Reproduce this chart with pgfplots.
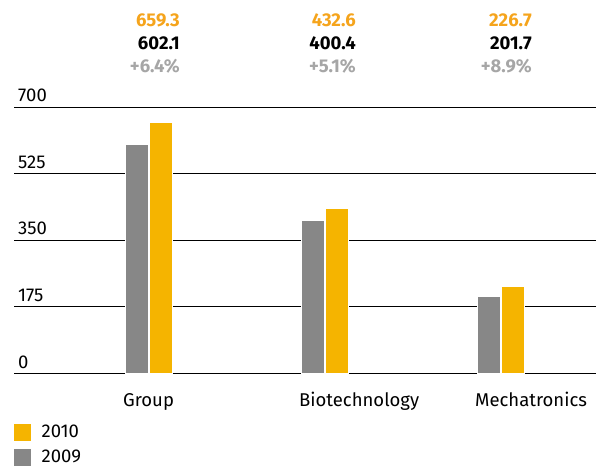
\documentclass[border=0pt]{standalone}
\usepackage{pgfplots}
\pgfplotsset{compat=1.18}
\usepackage{fontspec}
\setmainfont{Fira Sans}
\definecolor{barY}{HTML}{F5B400}
\definecolor{barG}{HTML}{878787}
\definecolor{txtO}{HTML}{F5A41C}
\definecolor{txtG}{HTML}{A6A6A6}
\newcommand\fs{\fontsize{18.5bp}{22bp}\selectfont}
\tikzset{vl/.style={anchor=base east, inner sep=0pt, font=\bfseries\fs}}
\begin{document}
\begin{tikzpicture}
\path[use as bounding box] (0,0) rectangle (596bp,469bp);
\begin{axis}[
  at={(14bp,96bp)}, anchor=south west,
  scale only axis, width=582bp, height=266bp,
  xmin=-0.767, xmax=2.540, ymin=0, ymax=700,
  clip=false,
  axis x line=bottom, axis y line=left,
  x axis line style={black, line width=1bp, -},
  y axis line style={draw=none},
  ytick={0,175,350,525,700},
  ymajorgrids, grid style={black, line width=0.8bp},
  major tick length=0pt,
  xtick={0,1,2},
  xticklabels={Group,Biotechnology,Mechatronics},
  xticklabel style={anchor=base west, inner sep=0pt, xshift=-26bp, yshift=-33bp},
  yticklabel style={anchor=base west, inner sep=0pt, xshift=4bp, yshift=5bp},
  /pgf/number format/assume math mode=true,
  tick label style={font=\fs},
  ybar, bar width=23bp,
  legend style={at={(0,-0.188)}, anchor=north west, draw=none, fill=none, inner sep=0pt,
    row sep=7bp, font=\fs, cells={anchor=west}},
  legend image code/.code={\fill[#1, draw=none] (0bp,-8.5bp) rectangle (17bp,8.5bp); \path (25bp,0);},
  reverse legend,
]
\addplot[fill=barG, draw=white, line width=1bp, bar shift=-12bp] coordinates {(0,602.1) (1,400.4) (2,201.7)};
\addlegendentry{2009}
\addplot[fill=barY, draw=white, line width=1bp, bar shift=12.5bp] coordinates {(0,659.3) (1,432.6) (2,226.7)};
\addlegendentry{2010}
\node[vl, text=txtO] at (axis cs:0.176,913) {659.3};
\node[vl, text=black] at (axis cs:0.176,852) {602.1};
\node[vl, text=txtG] at (axis cs:0.176,792) {+6.4\%};
\node[vl, text=txtO] at (axis cs:1.176,913) {432.6};
\node[vl, text=black] at (axis cs:1.176,852) {400.4};
\node[vl, text=txtG] at (axis cs:1.176,792) {+5.1\%};
\node[vl, text=txtO] at (axis cs:2.176,913) {226.7};
\node[vl, text=black] at (axis cs:2.176,852) {201.7};
\node[vl, text=txtG] at (axis cs:2.176,792) {+8.9\%};
\end{axis}
\end{tikzpicture}
\end{document}
